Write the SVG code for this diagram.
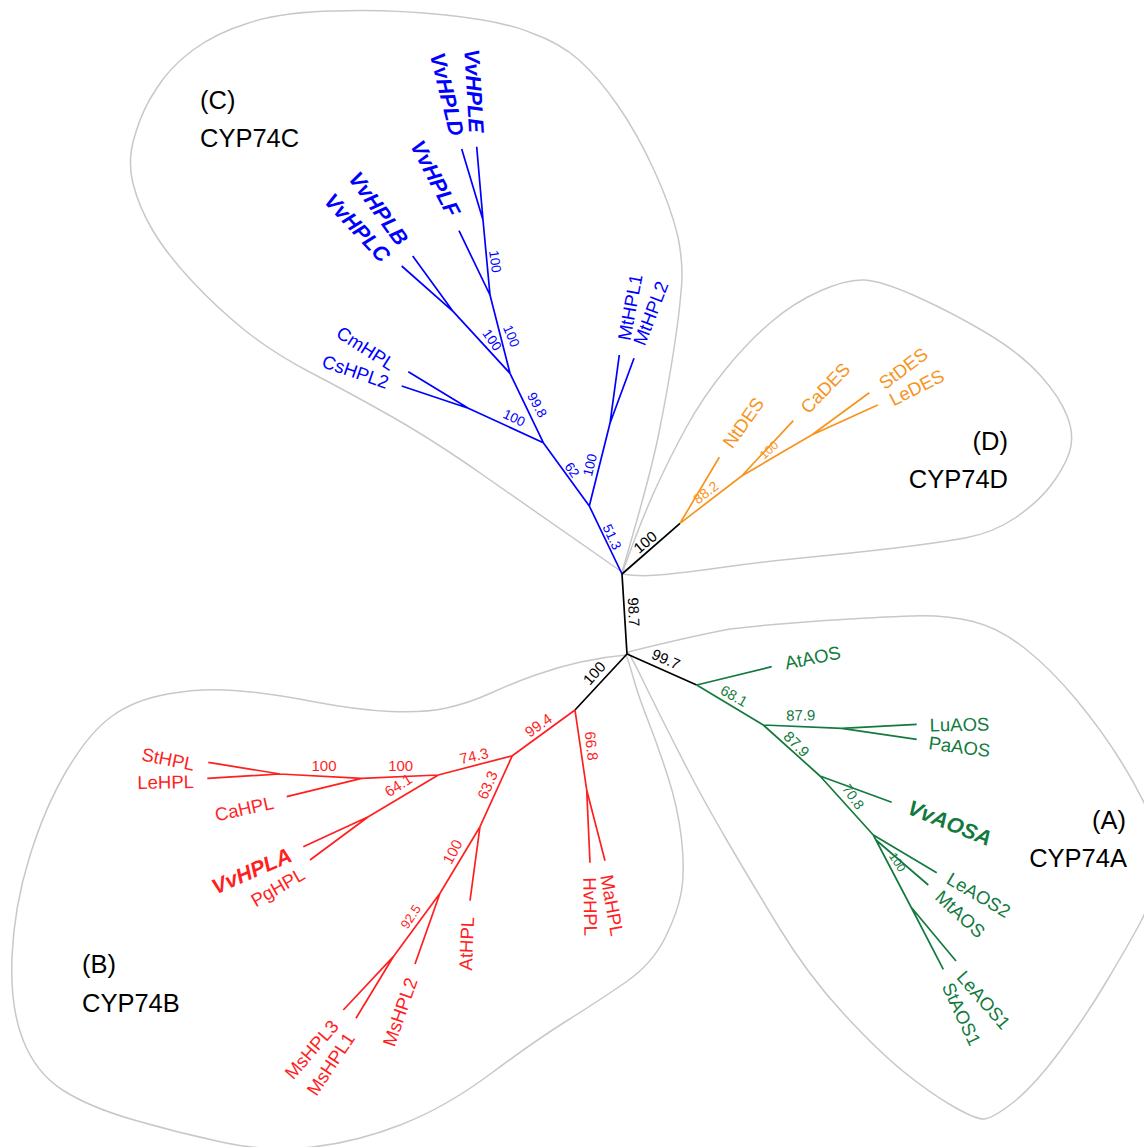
<svg xmlns="http://www.w3.org/2000/svg" width="1144" height="1147" viewBox="0 0 1144 1147">
<style>
.bg{fill:#ffffff}
.ol{fill:none;stroke:#c8c8c8;stroke-width:1.5}
.br{fill:none;stroke-width:1.7;stroke-linecap:butt;stroke-linejoin:round}
.sb{stroke:#0000ff}.so{stroke:#f7941e}.sg{stroke:#137a3e}.sr{stroke:#ff1f1f}.sk{stroke:#000000}
text{font-family:"Liberation Sans",Arial,sans-serif;text-anchor:middle;dominant-baseline:central}
.lb{font-size:18.5px}
.vv{font-size:21.5px;font-weight:bold;font-style:italic}
.bs{font-size:13.5px}
.bk{font-size:15px}
.cb{fill:#0000ff}.co{fill:#f7941e}.cg{fill:#137a3e}.cr{fill:#ff1f1f}.ck{fill:#000000}
.grp{font-size:25.5px;fill:#000000;text-anchor:start;dominant-baseline:auto}
.grpe{font-size:25.5px;fill:#000000;text-anchor:end;dominant-baseline:auto}
</style>
<rect class="bg" x="0" y="0" width="1144" height="1147"/>
<g id="clade-outlines">
<path id="outline-C" class="ol" d="M622,572 Q650,477 658.5,435 Q667,393 673,355 Q679,317 681,292 Q684,267 678,237 Q671,207 654,170 Q637,133 617.5,105 Q598,77 579,60 Q560,43 531.5,33 Q503,21 445.5,15 Q388,9 334.5,11 Q281,12 248.5,23 Q216,33 193,50 Q170,67 156.5,88.5 Q142,110 135,135 Q127,160 133,183.5 Q139,207 152.5,230 Q166,253 191,280 Q216,307 244.5,330 Q273,353 311.5,373 Q350,393 391.5,416.5 Q433,440 483,475 Q533,510 622,572"/>
<path id="outline-D" class="ol" d="M622,574 Q640,523 655,490 Q670,457 686.5,427 Q703,397 725,370 Q747,343 770,323 Q793,303 820,291 Q847,279 864.5,280 Q882,281 917.5,297 Q953,313 986.5,333 Q1020,353 1040,375 Q1060,397 1067.5,417 Q1075,437 1069,453.5 Q1063,470 1050,486.5 Q1037,503 1015,518 Q993,533 965,538 Q937,543 895,548 Q853,553 806.5,557.5 Q760,562 725,567 Q690,572 665,574.5 Q640,577 622,574"/>
<path id="outline-A" class="ol" d="M628,652 Q688,637 730,629 Q773,624 825.5,620.5 Q878,617 912.5,616 Q947,615 973,621.5 Q999,628 1025,648.5 Q1051,669 1077,700.5 Q1103,732 1122,763 Q1141,794 1153,822 Q1165,850 1157.5,877.5 Q1150,905 1138.5,926 Q1127,947 1106.5,981.5 Q1086,1016 1060,1051 Q1034,1086 1013,1102.5 Q992,1119 983.5,1119 Q975,1119 952.5,1106 Q930,1093 904,1072 Q878,1051 843,1013 Q808,975 779,927.5 Q750,880 727,840.5 Q704,801 689.5,773 Q675,745 662.5,720 Q650,695 641.5,677.5 Q633,660 628,652"/>
<path id="outline-B" class="ol" d="M626,655 Q603,657 580.5,662 Q558,667 535.5,675 Q513,683 491,693 Q469,703 446.5,708 Q424,713 390.5,711.5 Q357,710 312.5,701.5 Q268,693 234.5,690.5 Q201,688 167.5,694 Q134,700 111.5,716.5 Q89,733 67,770 Q45,807 29.5,857 Q14,907 12,957 Q10,1007 23,1040 Q36,1073 62.5,1090 Q89,1107 134,1120 Q179,1133 223.5,1142.5 Q268,1152 312.5,1147 Q357,1142 401.5,1124.5 Q446,1107 491,1073.5 Q536,1040 568,1020 Q600,1000 626,982 Q652,964 665,938 Q678,912 681.5,891 Q685,870 681.5,839 Q678,808 668,777 Q658,746 648,720.5 Q638,695 633.5,678.5 Q629,662 626,655"/>
</g>
<g id="branches">
<path class="br sk" d="M622,574 L627,654 M622,574 L680,523.3 M627,654 L696.7,685 M627,654 L575,710"/>
<path class="br sb" d="M622,574 L589.3,506 M589.3,506 L610,423.3 L619.3,355 M610,423.3 L634,358.3 M589.3,506 L543.3,442.7 M543.3,442.7 L468.3,408.3 L408.3,371.7 M468.3,408.3 L401.7,386 M543.3,442.7 L510,373.3 M510,373.3 L453.3,311.7 L412.7,256 M453.3,311.7 L401.7,266 M510,373.3 L490,295 M490,295 L459,230.7 M490,295 L483,220 L476.7,146.7 M483,220 L461.7,149"/>
<path class="br so" d="M680,523.3 L719.3,457.3 M680,523.3 L741.7,476 L793.3,420.7 M741.7,476 L811.7,435 L869.3,392.7 M811.7,435 L877.7,405"/>
<path class="br sg" d="M696.7,685 L771.7,666.7 M696.7,685 L763.3,725 M763.3,725 L841.7,728.3 L916.7,724.3 M841.7,728.3 L916.7,739.3 M763.3,725 L820,776 M820,776 L891.7,802.3 M820,776 L873.3,835 M873.3,835 L936.7,872.7 M876,840 L928.3,885 M873.3,835 L911,907 L943.3,969.3 M911,907 L956,961"/>
<path class="br sr" d="M575,710 L586.7,790 L590,862.7 M586.7,790 L605,860.7 M575,710 L512.3,755.7 M512.3,755.7 L438.3,775 M438.3,775 L361.7,778.3 M361.7,778.3 L286.7,796.7 M361.7,778.3 L280,774 L208.3,762.3 M280,774 L207.3,778.3 M438.3,775 L368.3,816.7 M368.3,816.7 L303.3,846.7 M368.3,816.7 L310,860 M512.3,755.7 L480,826.7 M480,826.7 L470,900.7 M480,826.7 L440,893.3 M440,893.3 L393.3,956.7 L343.3,1010 M393.3,956.7 L356,1018.3 M440,893.3 L415,964"/>
</g>
<g id="support-values">
<text class="bk ck" transform="translate(645,542) rotate(-40)">100</text>
<text class="bk ck" transform="translate(634,612) rotate(87)">98.7</text>
<text class="bk ck" transform="translate(666,659) rotate(24)">99.7</text>
<text class="bk ck" transform="translate(594,673) rotate(-48)">100</text>
<text class="bs cb" transform="translate(495,261.5) rotate(82)">100</text>
<text class="bs cb" transform="translate(511.3,336) rotate(67)">100</text>
<text class="bs cb" transform="translate(492,340) rotate(55)">100</text>
<text class="bs cb" transform="translate(537,405) rotate(62)">99.8</text>
<text class="bs cb" transform="translate(514,418) rotate(25)">100</text>
<text class="bs cb" transform="translate(572,470) rotate(55)">62</text>
<text class="bs cb" transform="translate(590,465) rotate(-76)">100</text>
<text class="bs cb" transform="translate(612,537) rotate(65)">51.3</text>
<text class="co" style="font-size:14px" transform="translate(705.7,492.3) rotate(-38)">88.2</text>
<text class="co" style="font-size:12px" transform="translate(769,450) rotate(-42)">100</text>
<text class="cg" style="font-size:14.5px" transform="translate(734,696) rotate(30)">68.1</text>
<text class="cg" style="font-size:15px" transform="translate(800.7,715) rotate(-1)">87.9</text>
<text class="cg" style="font-size:15px" transform="translate(796.7,744) rotate(45)">87.9</text>
<text class="cg" style="font-size:14px" transform="translate(853.3,796.7) rotate(55)">70.8</text>
<text class="cg" style="font-size:12px" transform="translate(897.3,862.3) rotate(57)">100</text>
<text class="bk cr" transform="translate(591.7,746) rotate(84)">66.8</text>
<text class="bk cr" transform="translate(538.3,725) rotate(-35)">99.4</text>
<text class="bk cr" transform="translate(474,755.7) rotate(-13)">74.3</text>
<text class="bk cr" transform="translate(400.7,765.7)">100</text>
<text class="bk cr" transform="translate(324,765.7)">100</text>
<text class="bk cr" transform="translate(398.3,785) rotate(-33)">64.1</text>
<text class="bk cr" transform="translate(487.3,785) rotate(-66)">63.3</text>
<text class="bk cr" transform="translate(452.3,851.7) rotate(-62)">100</text>
<text class="cr" style="font-size:13px" transform="translate(410.7,916.7) rotate(-57)">92.5</text>
</g>
<g id="leaf-VvHPLE"><text class="vv cb" transform="translate(473.7,90.8) rotate(86.6)">VvHPLE</text></g>
<g id="leaf-VvHPLD"><text class="vv cb" transform="translate(446.7,94.2) rotate(76.3)">VvHPLD</text></g>
<g id="leaf-VvHPLF"><text class="vv cb" transform="translate(435,178.7) rotate(62.5)">VvHPLF</text></g>
<g id="leaf-VvHPLB"><text class="vv cb" transform="translate(378.2,208.7) rotate(54)">VvHPLB</text></g>
<g id="leaf-VvHPLC"><text class="vv cb" transform="translate(357,228) rotate(47)">VvHPLC</text></g>
<g id="leaf-CmHPL"><text class="lb cb" transform="translate(365.8,348.3) rotate(32.6)">CmHPL</text></g>
<g id="leaf-CsHPL2"><text class="lb cb" transform="translate(355.5,371.7) rotate(19)">CsHPL2</text></g>
<g id="leaf-MtHPL1"><text class="lb cb" transform="translate(630,307.3) rotate(-79.4)">MtHPL1</text></g>
<g id="leaf-MtHPL2"><text class="lb cb" transform="translate(650.7,313.3) rotate(-69)">MtHPL2</text></g>
<g id="leaf-NtDES"><text class="lb co" transform="translate(743.3,422.8) rotate(-54.7)">NtDES</text></g>
<g id="leaf-CaDES"><text class="lb co" transform="translate(825.3,388) rotate(-46)">CaDES</text></g>
<g id="leaf-StDES"><text class="lb co" transform="translate(903.2,368.3) rotate(-37)">StDES</text></g>
<g id="leaf-LeDES"><text class="lb co" transform="translate(916.7,387.5) rotate(-26.6)">LeDES</text></g>
<g id="leaf-AtAOS"><text class="lb cg" transform="translate(812.6,657.6) rotate(-11.5)">AtAOS</text></g>
<g id="leaf-LuAOS"><text class="lb cg" transform="translate(959.5,724.5) rotate(-1)">LuAOS</text></g>
<g id="leaf-PaAOS"><text class="lb cg" transform="translate(959.5,746.7) rotate(7.7)">PaAOS</text></g>
<g id="leaf-VvAOSA"><text class="vv cg" transform="translate(949.5,823.3) rotate(22)">VvAOSA</text></g>
<g id="leaf-LeAOS2"><text class="lb cg" transform="translate(978.7,895) rotate(30.5)">LeAOS2</text></g>
<g id="leaf-MtAOS"><text class="lb cg" transform="translate(960.3,914) rotate(43)">MtAOS</text></g>
<g id="leaf-LeAOS1"><text class="lb cg" transform="translate(983.7,1000) rotate(49)">LeAOS1</text></g>
<g id="leaf-StAOS1"><text class="lb cg" transform="translate(961.5,1014) rotate(65)">StAOS1</text></g>
<g id="leaf-StHPL"><text class="lb cr" transform="translate(168.2,759.2) rotate(11.3)">StHPL</text></g>
<g id="leaf-LeHPL"><text class="lb cr" transform="translate(165.7,782) rotate(-1)">LeHPL</text></g>
<g id="leaf-CaHPL"><text class="lb cr" transform="translate(244.2,808.7) rotate(-12.4)">CaHPL</text></g>
<g id="leaf-VvHPLA"><text class="vv cr" transform="translate(251.7,871.3) rotate(-23.7)">VvHPLA</text></g>
<g id="leaf-PgHPL"><text class="lb cr" transform="translate(277.8,887.2) rotate(-30)">PgHPL</text></g>
<g id="leaf-MaHPL"><text class="lb cr" transform="translate(612,905.3) rotate(80)">MaHPL</text></g>
<g id="leaf-HvHPL"><text class="lb cr" transform="translate(590.3,906.7) rotate(89)">HvHPL</text></g>
<g id="leaf-AtHPL"><text class="lb cr" transform="translate(466.5,943.7) rotate(-87.7)">AtHPL</text></g>
<g id="leaf-MsHPL2"><text class="lb cr" transform="translate(400,1012) rotate(-70.8)">MsHPL2</text></g>
<g id="leaf-MsHPL3"><text class="lb cr" transform="translate(311.5,1049.5) rotate(-49)">MsHPL3</text></g>
<g id="leaf-MsHPL1"><text class="lb cr" transform="translate(330.7,1064) rotate(-56.3)">MsHPL1</text></g>
<g id="group-labels">
<text class="grp" x="200" y="108.5">(C)</text>
<text class="grp" x="200" y="146.5">CYP74C</text>
<text class="grpe" x="1008" y="450">(D)</text>
<text class="grpe" x="1008" y="488">CYP74D</text>
<text class="grpe" x="1126" y="829">(A)</text>
<text class="grpe" x="1127" y="867">CYP74A</text>
<text class="grp" x="82" y="973">(B)</text>
<text class="grp" x="82" y="1011.5">CYP74B</text>
</g>
</svg>
